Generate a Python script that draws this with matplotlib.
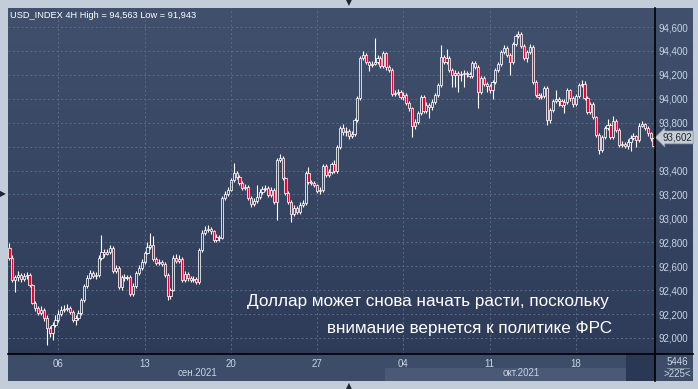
import matplotlib
matplotlib.use("Agg")
import matplotlib.pyplot as plt
import numpy as np
from matplotlib.patches import Rectangle
from matplotlib.lines import Line2D
from matplotlib.transforms import blended_transform_factory

# USD_INDEX 4H, 225 свечей (01.09.2021 - 22.10.2021)
opens = [
    92.753, 92.669, 92.485, 92.510, 92.527, 92.494, 92.519, 92.527, 92.443, 92.293,
    92.251, 92.209, 92.234, 92.167, 92.084, 92.042, 92.109, 92.151, 92.201, 92.234,
    92.243, 92.251, 92.218, 92.151, 92.167, 92.209, 92.318, 92.435, 92.502, 92.544,
    92.519, 92.527, 92.669, 92.719, 92.702, 92.719, 92.753, 92.560, 92.585, 92.426,
    92.510, 92.502, 92.510, 92.368, 92.435, 92.544, 92.585, 92.636, 92.711, 92.761,
    92.778, 92.661, 92.627, 92.636, 92.619, 92.527, 92.351, 92.402, 92.669, 92.644,
    92.661, 92.485, 92.535, 92.502, 92.485, 92.494, 92.468, 92.736, 92.878, 92.903,
    92.911, 92.895, 92.820, 92.845, 92.836, 93.171, 93.204, 93.237, 93.321, 93.379,
    93.346, 93.296, 93.254, 93.262, 93.171, 93.121, 93.146, 93.179, 93.221, 93.246,
    93.254, 93.196, 93.237, 93.137, 93.488, 93.505, 93.338, 93.212, 93.137, 93.037,
    93.087, 93.054, 93.112, 93.129, 93.379, 93.304, 93.296, 93.279, 93.229, 93.237,
    93.438, 93.363, 93.388, 93.455, 93.396, 93.597, 93.756, 93.722, 93.731, 93.689,
    93.706, 93.822, 94.006, 94.341, 94.366, 94.307, 94.282, 94.291, 94.307, 94.341,
    94.274, 94.383, 94.266, 94.241, 94.040, 94.048, 94.057, 94.015, 94.032, 93.965,
    93.923, 93.772, 93.806, 93.881, 94.015, 93.898, 93.948, 93.931, 93.973, 94.032,
    94.115, 94.349, 94.307, 94.341, 94.241, 94.199, 94.216, 94.199, 94.207, 94.216,
    94.207, 94.190, 94.299, 94.266, 94.057, 94.174, 94.124, 94.107, 94.073, 94.140,
    94.241, 94.291, 94.391, 94.425, 94.366, 94.307, 94.458, 94.525, 94.542, 94.441,
    94.341, 94.391, 94.433, 94.140, 94.032, 94.015, 94.023, 94.090, 93.822, 93.906,
    93.981, 93.998, 93.981, 93.948, 93.973, 94.073, 94.006, 93.956, 94.023, 94.115,
    94.124, 94.006, 93.889, 93.956, 93.848, 93.697, 93.572, 93.680, 93.756, 93.781,
    93.680, 93.814, 93.739, 93.614, 93.622, 93.605, 93.639, 93.672, 93.689, 93.655,
    93.772, 93.789, 93.756, 93.714, 93.672,
]
closes = [
    92.669, 92.485, 92.510, 92.527, 92.494, 92.519, 92.527, 92.443, 92.293, 92.251,
    92.209, 92.234, 92.167, 92.084, 92.042, 92.109, 92.151, 92.201, 92.234, 92.243,
    92.251, 92.218, 92.151, 92.167, 92.209, 92.318, 92.435, 92.502, 92.544, 92.519,
    92.527, 92.669, 92.719, 92.702, 92.719, 92.753, 92.560, 92.585, 92.426, 92.510,
    92.502, 92.510, 92.368, 92.435, 92.544, 92.585, 92.636, 92.711, 92.761, 92.778,
    92.661, 92.627, 92.636, 92.619, 92.527, 92.351, 92.402, 92.669, 92.644, 92.661,
    92.485, 92.535, 92.502, 92.485, 92.494, 92.468, 92.736, 92.878, 92.903, 92.911,
    92.895, 92.820, 92.845, 92.836, 93.171, 93.204, 93.237, 93.321, 93.379, 93.346,
    93.296, 93.254, 93.262, 93.171, 93.121, 93.146, 93.179, 93.221, 93.246, 93.254,
    93.196, 93.237, 93.137, 93.488, 93.505, 93.338, 93.212, 93.137, 93.037, 93.087,
    93.054, 93.112, 93.129, 93.379, 93.304, 93.296, 93.279, 93.229, 93.237, 93.438,
    93.363, 93.388, 93.455, 93.396, 93.597, 93.756, 93.722, 93.731, 93.689, 93.706,
    93.822, 94.006, 94.341, 94.366, 94.307, 94.282, 94.291, 94.307, 94.341, 94.274,
    94.383, 94.266, 94.241, 94.040, 94.048, 94.057, 94.015, 94.032, 93.965, 93.923,
    93.772, 93.806, 93.881, 94.015, 93.898, 93.948, 93.931, 93.973, 94.032, 94.115,
    94.349, 94.307, 94.341, 94.241, 94.199, 94.216, 94.199, 94.207, 94.216, 94.207,
    94.190, 94.299, 94.266, 94.057, 94.174, 94.124, 94.107, 94.073, 94.140, 94.241,
    94.291, 94.391, 94.425, 94.366, 94.307, 94.458, 94.525, 94.542, 94.441, 94.341,
    94.391, 94.433, 94.140, 94.032, 94.015, 94.023, 94.090, 93.822, 93.906, 93.981,
    93.998, 93.981, 93.948, 93.973, 94.073, 94.006, 93.956, 94.023, 94.115, 94.124,
    94.006, 93.889, 93.956, 93.848, 93.697, 93.572, 93.680, 93.756, 93.781, 93.680,
    93.814, 93.739, 93.614, 93.622, 93.605, 93.639, 93.672, 93.689, 93.655, 93.772,
    93.789, 93.756, 93.714, 93.672, 93.602,
]
highs = [
    92.795, 92.690, 92.530, 92.560, 92.545, 92.545, 92.550, 92.540, 92.455, 92.310,
    92.270, 92.265, 92.250, 92.190, 92.100, 92.135, 92.190, 92.230, 92.270, 92.275,
    92.285, 92.270, 92.230, 92.190, 92.230, 92.335, 92.450, 92.525, 92.570, 92.560,
    92.550, 92.690, 92.860, 92.740, 92.745, 92.775, 92.765, 92.610, 92.600, 92.530,
    92.535, 92.530, 92.525, 92.460, 92.560, 92.610, 92.660, 92.730, 92.800, 92.878,
    92.850, 92.680, 92.660, 92.655, 92.635, 92.540, 92.420, 92.690, 92.700, 92.690,
    92.680, 92.560, 92.550, 92.520, 92.515, 92.510, 92.750, 92.900, 92.935, 92.945,
    92.925, 92.905, 92.870, 92.860, 93.190, 93.230, 93.265, 93.340, 93.460, 93.395,
    93.360, 93.310, 93.290, 93.275, 93.185, 93.170, 93.279, 93.245, 93.270, 93.280,
    93.270, 93.260, 93.250, 93.505, 93.535, 93.520, 93.350, 93.225, 93.150, 93.110,
    93.100, 93.135, 93.150, 93.395, 93.430, 93.320, 93.310, 93.290, 93.265, 93.455,
    93.455, 93.410, 93.475, 93.488, 93.615, 93.775, 93.790, 93.760, 93.745, 93.730,
    93.840, 94.025, 94.360, 94.400, 94.380, 94.320, 94.320, 94.508, 94.365, 94.355,
    94.400, 94.395, 94.280, 94.255, 94.075, 94.085, 94.070, 94.055, 94.045, 93.980,
    93.935, 93.830, 93.900, 94.030, 94.030, 93.970, 93.965, 93.995, 94.050, 94.135,
    94.450, 94.365, 94.420, 94.355, 94.255, 94.240, 94.235, 94.230, 94.240, 94.235,
    94.225, 94.320, 94.315, 94.280, 94.190, 94.190, 94.140, 94.120, 94.160, 94.260,
    94.310, 94.410, 94.450, 94.440, 94.380, 94.475, 94.545, 94.563, 94.555, 94.455,
    94.410, 94.455, 94.450, 94.155, 94.050, 94.045, 94.110, 94.105, 93.925, 94.000,
    94.070, 94.015, 93.995, 93.995, 94.090, 94.085, 94.020, 94.040, 94.130, 94.160,
    94.145, 94.020, 93.975, 93.970, 93.860, 93.710, 93.700, 93.775, 93.830, 93.800,
    93.860, 93.830, 93.755, 93.650, 93.640, 93.660, 93.700, 93.710, 93.700, 93.795,
    93.810, 93.800, 93.770, 93.725, 93.685,
]
lows = [
    92.655, 92.470, 92.385, 92.480, 92.470, 92.480, 92.495, 92.430, 92.280, 92.225,
    92.190, 92.195, 92.140, 91.943, 92.010, 91.985, 92.090, 92.135, 92.185, 92.215,
    92.225, 92.200, 92.130, 92.109, 92.150, 92.195, 92.300, 92.420, 92.490, 92.500,
    92.495, 92.510, 92.650, 92.680, 92.690, 92.705, 92.545, 92.545, 92.410, 92.400,
    92.480, 92.485, 92.355, 92.350, 92.420, 92.530, 92.570, 92.620, 92.700, 92.745,
    92.645, 92.610, 92.610, 92.600, 92.510, 92.318, 92.330, 92.390, 92.630, 92.630,
    92.470, 92.470, 92.480, 92.465, 92.470, 92.450, 92.455, 92.720, 92.860, 92.890,
    92.870, 92.800, 92.800, 92.815, 92.825, 93.150, 93.190, 93.225, 93.305, 93.330,
    93.280, 93.235, 93.240, 93.155, 93.095, 93.105, 93.130, 93.160, 93.205, 93.230,
    93.180, 93.180, 93.120, 92.987, 93.470, 93.320, 93.195, 93.120, 92.970, 93.020,
    93.035, 93.040, 93.095, 93.115, 93.290, 93.275, 93.260, 93.210, 93.205, 93.220,
    93.345, 93.345, 93.370, 93.380, 93.380, 93.580, 93.700, 93.690, 93.665, 93.670,
    93.690, 93.805, 93.990, 94.325, 94.290, 94.230, 94.265, 94.280, 94.290, 94.255,
    94.260, 94.240, 94.220, 94.020, 94.025, 94.030, 93.995, 93.990, 93.945, 93.900,
    93.680, 93.750, 93.790, 93.865, 93.880, 93.880, 93.840, 93.910, 93.955, 94.015,
    94.100, 94.290, 94.290, 94.225, 94.100, 94.100, 94.060, 94.150, 94.100, 94.180,
    94.170, 94.175, 94.250, 93.923, 94.040, 94.105, 94.060, 94.050, 94.000, 94.125,
    94.225, 94.275, 94.375, 94.350, 94.200, 94.290, 94.440, 94.510, 94.425, 94.325,
    94.310, 94.375, 94.120, 94.015, 93.995, 94.000, 94.005, 93.780, 93.800, 93.890,
    93.965, 93.940, 93.930, 93.880, 93.955, 93.985, 93.935, 93.940, 94.005, 94.100,
    93.990, 93.870, 93.870, 93.830, 93.680, 93.540, 93.555, 93.660, 93.740, 93.660,
    93.660, 93.720, 93.595, 93.595, 93.585, 93.580, 93.560, 93.655, 93.600, 93.640,
    93.760, 93.735, 93.690, 93.650, 93.585,
]

# Подписи осей
day_ticks = [17, 47, 77, 107, 137, 167, 197]
day_labels = ["06", "13", "20", "27", "04", "11", "18"]
months = ["сен.2021", "окт.2021"]
price_ticks = [92.0, 92.2, 92.4, 92.6, 92.8, 93.0, 93.2, 93.4, 93.6, 93.8, 94.0, 94.2, 94.4, 94.6]
last_price = 93.602
title = "USD_INDEX 4H High = 94,563 Low = 91,943"
caption = ["Доллар может снова начать расти, поскольку",
           "внимание вернется к политике ФРС"]

plt.rcParams["font.family"] = ["Liberation Sans", "DejaVu Sans"]

W, H = 698, 389
fig = plt.figure(figsize=(W / 100, H / 100), dpi=100)
fig.patch.set_facecolor("#c3cdd9")


def fx(px):
    return px / W


def fy(py):
    return 1 - py / H


# фон с градиентом
bg = fig.add_axes([fx(8), fy(381), fx(693 - 8), (381 - 8) / H], zorder=0)
grad = np.linspace(0, 1, 256).reshape(-1, 1)
top_c = np.array([0x41, 0x50, 0x6d]) / 255
bot_c = np.array([0x2c, 0x3a, 0x58]) / 255
img = top_c * (1 - grad[..., None]) + bot_c * grad[..., None]
bg.imshow(img, aspect="auto", extent=(0, 1, 0, 1))
bg.set_axis_off()

# нижняя полоса с датами
for (x0, y0, x1, y1, col) in [(8, 354, 693, 381, "#3d4d69"),
                              (385, 368, 626, 381, "#4a5a76"),
                              (626, 355, 655, 381, "#2b3854")]:
    fig.add_artist(Rectangle((fx(x0), fy(y1)), fx(x1 - x0), (y1 - y0) / H,
                             transform=fig.transFigure, color=col, lw=0, zorder=1))

ax = fig.add_axes([fx(8), fy(354), fx(647), 346 / H], zorder=3)
ax.set_facecolor("none")
ax.set_xlim(-0.5, len(closes) - 0.5)
ax.set_ylim(91.866, 94.759)
for s in ax.spines.values():
    s.set_visible(False)

ax.grid(True, color="#5b6a86", linestyle=(0, (2, 2.5)), linewidth=0.7)
ax.set_axisbelow(True)

# свечи
x = np.arange(len(closes))
o = np.array(opens)
c = np.array(closes)
h = np.array(highs)
l = np.array(lows)
top = np.maximum(o, c)
bot = np.minimum(o, c)
up = c >= o
ax.vlines(x, top, np.maximum(h, top), color="white", lw=0.8, zorder=3)
ax.vlines(x, np.minimum(l, bot), bot, color="white", lw=0.8, zorder=3)
ax.bar(x[up], (top - bot)[up], bottom=bot[up], width=0.75,
       facecolor="none", edgecolor="white", lw=0.55, zorder=4)
ax.bar(x[~up], (top - bot)[~up], bottom=bot[~up], width=0.75,
       facecolor="#f0002e", edgecolor="white", lw=0.55, zorder=4)

# оси
ax.yaxis.tick_right()
ax.set_yticks(price_ticks)
ax.set_yticklabels(["" if abs(p - 93.6) < 1e-6 else f"{p:.3f}".replace(".", ",")
                    for p in price_ticks])
ax.tick_params(axis="y", length=0, pad=2.5, labelsize=7, colors="#c9d3e2")
ax.set_xticks(day_ticks)
ax.set_xticklabels(day_labels)
ax.tick_params(axis="x", length=0, pad=3.5, labelsize=7, colors="#c9d3e2")

trans = blended_transform_factory(ax.transData, ax.transAxes)
ax.text(65.5, -0.056, months[0], transform=trans, ha="center", va="center",
        fontsize=7, color="#c9d3e2", clip_on=False)
ax.text(178, -0.056, months[1], transform=trans, ha="center", va="center",
        fontsize=7, color="#c9d3e2", clip_on=False)

ax.text(0.003, 0.99, title, transform=ax.transAxes, ha="left", va="top",
        fontsize=6.7, color="white")

ax.text(0.9285, 0.153, caption[0], transform=ax.transAxes, ha="right", va="center",
        fontsize=12.3, color="white", zorder=6)
ax.text(0.9345, 0.075, caption[1], transform=ax.transAxes, ha="right", va="center",
        fontsize=12.3, color="white", zorder=6)

# текущая цена
ptrans = blended_transform_factory(ax.transAxes, ax.transData)
ax.text(1.0 + 7 / 647, last_price + 0.075, f"{last_price:.3f}".replace(".", ","),
        transform=ptrans, ha="left", va="center", fontsize=7, color="#1e2636",
        bbox=dict(boxstyle="larrow,pad=0.15", fc="#c8ccd3", ec="#8d96a6", lw=0.5),
        clip_on=False, zorder=7)

# разделители
fig.add_artist(Line2D([fx(655), fx(655)], [fy(8), fy(381)], color="black", lw=1.2, zorder=5))
fig.add_artist(Line2D([fx(8), fx(693)], [fy(354), fy(354)], color="black", lw=1.2, zorder=5))

# счетчик баров
fig.text(fx(677), fy(362), "5446", ha="center", va="center", fontsize=7, color="#c9d3e2")
fig.add_artist(Line2D([fx(667), fx(689)], [fy(368), fy(368)], color="#8893a8", lw=0.6, zorder=5))
fig.text(fx(677), fy(374), ">225<", ha="center", va="center", fontsize=7, color="#c9d3e2")

# маленькие стрелки по краям
for (px, py, ch) in [(349, 3, "▼"), (3, 194, "▶"), (349, 386, "▲")]:
    fig.text(fx(px), fy(py), ch, ha="center", va="center", fontsize=5.5,
             color="#1c2433", family="DejaVu Sans")

fig.savefig("out.png", dpi=100, facecolor=fig.get_facecolor())
